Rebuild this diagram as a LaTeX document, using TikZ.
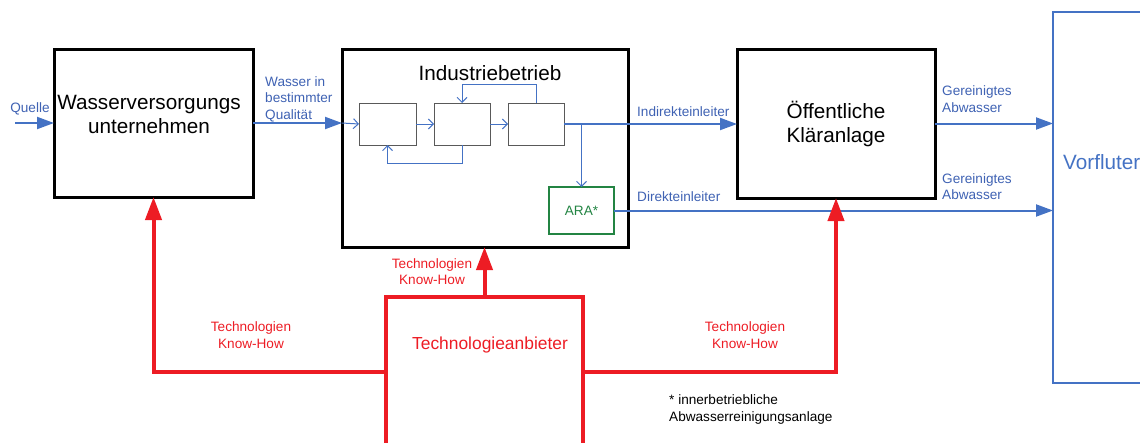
\documentclass[tikz,border=0pt]{standalone}
\usepackage{fontspec}
\setmainfont{Liberation Sans}
\usetikzlibrary{arrows.meta}
\definecolor{flowblue}{HTML}{4472C4}
\definecolor{labelblue}{HTML}{3F62B3}
\definecolor{techred}{HTML}{ED1C24}
\definecolor{aragreen}{HTML}{238443}
\definecolor{unitgray}{HTML}{595959}
\newcommand{\bigtext}{\fontsize{20.7}{24}\selectfont}
\newcommand{\smalltext}{\fontsize{13.6}{16.5}\selectfont}
\newcommand{\midtext}{\fontsize{17.4}{21}\selectfont}
\tikzset{
  mainbox/.style={draw=black, line width=3pt, rectangle, inner sep=0pt, outer sep=0pt},
  unitbox/.style={draw=unitgray, line width=1pt, rectangle, inner sep=0pt, outer sep=0pt,
                  minimum height=42pt},
  arabox/.style={draw=aragreen, line width=1.6pt, rectangle, inner sep=0pt, outer sep=0pt,
                 text=aragreen, font=\smalltext},
  techbox/.style={draw=techred, line width=4pt, rectangle, inner sep=0pt, outer sep=0pt},
  riverbox/.style={draw=flowblue, line width=2pt, rectangle, inner sep=0pt, outer sep=0pt},
  flow/.style={draw=flowblue, line width=2pt, -{Triangle[length=17pt,width=12pt]}},
  innerflow/.style={draw=flowblue, line width=1pt, -{Straight Barb[length=5pt,width=10pt]}},
  knowhow/.style={draw=techred, line width=4pt, -{Triangle[length=23pt,width=16pt]}},
  bluelabel/.style={inner sep=0pt, text=labelblue, font=\smalltext, align=left},
  redlabel/.style={inner sep=0pt, text=techred, font=\smalltext, align=center},
  boxtitle/.style={inner sep=0pt, font=\bigtext, align=center},
}
\begin{document}
\begin{tikzpicture}[x=1pt, y=-1pt]
\useasboundingbox (0,0) rectangle (1140,442);
\clip (0,0) rectangle (1140,442);

% main boxes
\node[mainbox, minimum width=199pt, minimum height=148pt] (wvu) at (153.5,123) {};
\node[boxtitle] (wvutext) at (149,114) {Wasserversorgungs\\unternehmen};

\node[mainbox, minimum width=286pt, minimum height=198pt] (ind) at (485,148) {};
\node[boxtitle] (indtext) at (490,73) {Industriebetrieb};

\node[mainbox, minimum width=198pt, minimum height=149pt] (klar) at (836,123.5) {};
\node[boxtitle] (klartext) at (836,123.5) {Öffentliche\\Kläranlage};

\node[riverbox, minimum width=130pt, minimum height=371pt, anchor=north west] (vf) at (1053,12) {};
\node[boxtitle, text=flowblue, anchor=west] (vftext) at (1063,162) {Vorfluter};

\node[techbox, minimum width=197pt, minimum height=180pt, anchor=north west] (tech) at (386,297) {};
\node[inner sep=0pt, text=techred, font=\midtext] (techtext) at (490,345) {Technologieanbieter};

% process units inside the plant
\node[unitbox, minimum width=57pt] (p1) at (387.5,124) {};
\node[unitbox, minimum width=56pt] (p2) at (462,124) {};
\node[unitbox, minimum width=56pt] (p3) at (536,124) {};
\node[arabox, minimum width=65pt, minimum height=47pt] (ara) at (581.5,210.5) {ARA*};

% water flows
\coordinate (src) at (15,123);
\coordinate (branch) at (581.5,124);
\draw[flow] (src) -- (wvu.west);
\draw[flow] (wvu.east) -- (wvu.east -| ind.west);
\draw[innerflow] (wvu.east -| ind.west) -- (p1.west);
\draw[innerflow] (p1.east) -- (p2.west);
\draw[innerflow] (p2.east) -- (p3.west);
\draw[innerflow] (p2.south) -- ++(0,18) -| (p1.south);
\draw[innerflow] (p3.north) -- ++(0,-19) -| (p2.north);
\draw[flow] (p3.east) -- (p3.east -| klar.west);
\draw[innerflow] (branch) -- (ara.north);
\draw[flow] (ara.east) -- (ara.east -| vf.west);
\draw[flow] (klar.east) -- (klar.east -| vf.west);

% technology transfer
\coordinate (tl) at (386,372);
\coordinate (tr) at (583,372);
\draw[knowhow] (tech.north) -- (tech.north |- ind.south);
\draw[knowhow] (tl) -| (wvu.south);
\draw[knowhow] (tr) -| (klar.south);

% labels
\node[bluelabel] (lquelle) at (30,109) {Quelle};
\node[bluelabel, anchor=west] (lwasser) at (265,99) {Wasser in\\bestimmter\\Qualität};
\node[bluelabel, anchor=west] (lindirekt) at (637,112) {Indirekteinleiter};
\node[bluelabel, anchor=west] (ldirekt) at (637,197) {Direkteinleiter};
\node[bluelabel, anchor=west] (lgerein1) at (942,99) {Gereinigtes\\Abwasser};
\node[bluelabel, anchor=west] (lgerein2) at (942,186.5) {Gereinigtes\\Abwasser};
\node[redlabel] (lkh1) at (251,335) {Technologien\\Know-How};
\node[redlabel] (lkh2) at (432,271.5) {Technologien\\Know-How};
\node[redlabel] (lkh3) at (745,335) {Technologien\\Know-How};
\node[inner sep=0pt, font=\smalltext, align=left, anchor=west] (note) at (669,409.5) {* innerbetriebliche\\Abwasserreinigungsanlage};
\end{tikzpicture}
\end{document}
